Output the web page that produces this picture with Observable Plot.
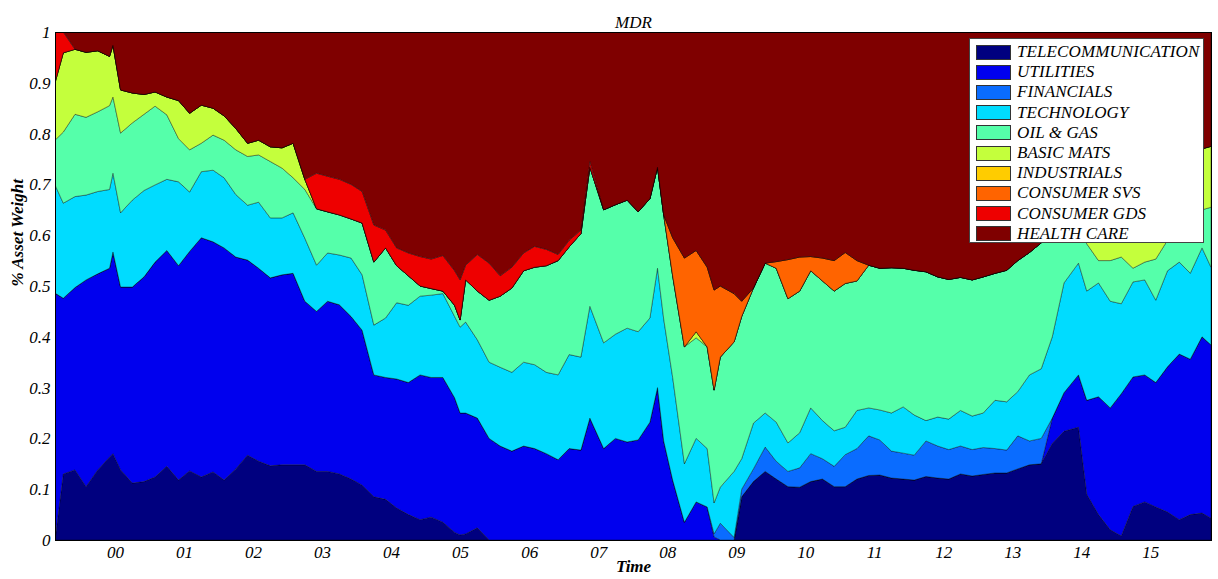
<!DOCTYPE html>
<html>
<head>
<meta charset="utf-8">
<script src="https://cdn.jsdelivr.net/npm/d3@7"></script>
<script src="https://cdn.jsdelivr.net/npm/@observablehq/plot@0.6"></script>
<style>
  html, body { margin: 0; padding: 0; background: #fff; }
  #wrap { position: relative; width: 1218px; height: 579px; }
  #legend { position: absolute; left: 969px; top: 38px; width: 235px; height: 205px; box-sizing: border-box;
    background: #fff; border: 1px solid #444; padding-top: 3px; font-family: "Liberation Serif", serif; }
  .row { display: flex; align-items: center; height: 20.2px; }
  .sw { width: 35px; height: 15px; margin-left: 6px; box-sizing: border-box; border: 1px solid #333; }
  .lab { margin-left: 6px; font-size: 17px; font-style: italic; color: #000; white-space: nowrap; letter-spacing: 0.1px; }
</style>
</head>
<body>
<div id="wrap"><div id="chart"></div><div id="legend"></div></div>
<script>
const sectors = ["TELECOMMUNICATION","UTILITIES","FINANCIALS","TECHNOLOGY","OIL & GAS","BASIC MATS","INDUSTRIALS","CONSUMER SVS","CONSUMER GDS","HEALTH CARE"];
const colors = ["#00007f","#0000ee","#0a6cff","#00dcff","#55ffaa","#c4ff3c","#ffcc00","#ff6400","#ee0000","#7f0000"];

const dates = [1999.13,1999.25,1999.42,1999.58,1999.75,1999.92,1999.97,2000.08,2000.25,2000.42,2000.58,2000.75,2000.92,2001.08,2001.25,2001.42,2001.58,2001.75,2001.92,2002.08,2002.25,2002.42,2002.58,2002.75,2002.92,2003.08,2003.25,2003.42,2003.58,2003.75,2003.92,2004.08,2004.25,2004.42,2004.58,2004.75,2004.92,2005.0,2005.08,2005.25,2005.42,2005.58,2005.75,2005.92,2006.08,2006.25,2006.42,2006.58,2006.75,2006.88,2007.08,2007.25,2007.42,2007.58,2007.75,2007.86,2007.95,2008.08,2008.25,2008.42,2008.58,2008.68,2008.77,2008.97,2009.08,2009.25,2009.42,2009.58,2009.75,2009.92,2010.08,2010.25,2010.42,2010.58,2010.75,2010.92,2011.08,2011.25,2011.42,2011.58,2011.75,2011.92,2012.08,2012.25,2012.42,2012.58,2012.75,2012.92,2013.08,2013.25,2013.42,2013.58,2013.75,2013.96,2014.08,2014.25,2014.42,2014.58,2014.75,2014.92,2015.08,2015.25,2015.42,2015.58,2015.75,2015.88];

const telecom = [0,0.13,0.138,0.105,0.138,0.163,0.17,0.138,0.112,0.115,0.124,0.145,0.118,0.136,0.124,0.134,0.118,0.14,0.167,0.155,0.146,0.148,0.148,0.148,0.135,0.135,0.13,0.12,0.108,0.085,0.08,0.063,0.05,0.04,0.045,0.035,0.015,0.01,0.012,0.024,
0,0,0,0,0,0,0,0,0,0,0,0,0,0,0,0,0,0,0,0,0,0,0,0,
0.085,0.115,0.135,0.12,0.105,0.104,0.115,0.12,0.105,0.105,0.12,0.127,0.128,0.122,0.12,0.118,0.125,0.122,0.12,0.13,0.126,0.129,0.132,0.132,0.14,0.148,0.15,0.19,0.214,0.222,0.09,0.05,0.02,0.008,0.066,0.075,0.065,0.055,0.04,0.05,0.053,0.043];

const utilities = [0.486,0.346,0.359,0.407,0.386,0.372,0.397,0.36,0.386,0.403,0.423,0.425,0.422,0.432,0.471,0.453,0.457,0.417,0.384,0.38,0.37,0.374,0.377,0.322,0.315,0.335,0.333,0.32,0.305,0.24,0.24,0.254,0.26,0.285,0.275,0.285,0.265,0.24,0.238,0.216,0.2,0.185,0.175,0.185,0.18,0.17,0.158,0.18,0.177,0.24,0.18,0.2,0.193,0.197,0.232,0.30,
0.195,
0.118,0.035,0.075,0.065,0.006,0,0,
0,0,0,0,0,0,0,0,0,0,0,0,0,0,0,0,0,0,0,0,0,0,0,0,0,0,0,
0.05,0.076,0.103,0.185,0.232,0.24,0.28,0.255,0.25,0.245,0.286,0.326,0.306,0.347,0.341];

const financials = [0,0,0,0,0,0,0,0,0,0,0,0,0,0,0,0,0,0,0,0,0,0,0,0,0,0,0,0,0,0,0,0,0,0,0,0,0,0,0,0,0,0,0,0,0,0,0,0,0,0,0,0,0,0,0,0,0,0,0,0,0,
0.006,0.033,0.005,0.015,0.025,0.048,0.035,0.03,0.038,0.055,0.04,0.04,0.063,0.06,0.078,0.069,0.053,0.051,0.049,0.07,0.063,0.058,0.055,0.052,0.053,0.048,0.045,0.065,0.047,0.05,
0,0,0,0,0,0,0,0,0,0,0,0,0,0,0];

const technology = [0.213,0.187,0.179,0.167,0.162,0.155,0.155,0.146,0.171,0.17,0.152,0.14,0.165,0.117,0.13,0.141,0.138,0.123,0.108,0.13,0.118,0.112,0.119,0.124,0.091,0.095,0.098,0.115,0.109,0.098,0.117,0.15,0.152,0.155,0.162,0.165,0.16,0.169,0.179,0.154,0.15,0.155,0.155,0.165,0.165,0.16,0.167,0.185,0.183,0.22,0.208,0.205,0.224,0.213,0.205,0.235,
0.24,
0.202,0.115,0.125,0.115,0.061,0.071,0.13,
0.06,0.09,0.067,0.077,0.056,0.069,0.09,0.075,0.07,0.054,0.075,0.055,0.059,0.075,0.091,0.079,0.04,0.057,0.06,0.07,0.066,0.068,0.095,0.095,0.087,0.13,0.137,0.16,0.216,0.22,
0.215,0.224,0.21,0.177,0.187,0.187,0.162,0.189,0.181,0.169,0.175,0.153];

const oilGas = [0.088,0.14,0.162,0.153,0.157,0.165,0.15,0.157,0.152,0.15,0.155,0.127,0.085,0.083,0.056,0.069,0.074,0.088,0.096,0.093,0.111,0.098,0.069,0.096,0.111,0.081,0.079,0.077,0.102,0.124,0.138,0.073,0.058,0.02,0.013,0.005,0.022,0.014,0.083,0.096,0.122,0.14,0.166,0.18,0.192,0.21,0.225,0.212,0.243,0.274,0.262,0.255,0.252,0.236,0.235,0.199,
0.205,
0.2,0.23,0.198,0.2,0.222,0.256,0.255,
0.28,0.266,0.295,0.303,0.284,0.279,0.27,0.275,0.275,0.283,0.255,0.281,0.279,0.286,0.273,0.285,0.293,0.276,0.275,0.262,0.268,0.268,0.25,0.259,0.258,0.241,0.248,0.20,0.114,0.07,
0.093,0.044,0.08,0.092,0.027,0.035,0.081,0.06,0.073,0.115,0.075,0.118];

const basicMats = [0.113,0.156,0.128,0.128,0.12,0.097,0.102,0.085,0.059,0.039,0.028,0.035,0.075,0.072,0.075,0.053,0.048,0.042,0.026,0.029,0.029,0.04,0.068,0.02,
0,0,0,0,0,0,0,0,0,0,0,0,0,0,0,0,0,0,0,0,0,0,0,0,0,0,0,0,0,0,0,0,0,0,0,
0.012,
0,0,0,0,0,0,0,0,0,0,0,0,0,0,0,0,0,0,0,0,0,0,0,0,0,0,0,0,0,0,0,0,0,0,
0.017,0.09,0.13,0.143,0.185,0.183,0.187,0.16,0.14,0.125,0.12,0.12];

const industrials = [0,0,0,0,0,0,0,0,0,0,0,0,0,0,0,0,0,0,0,0,0,0,0,0,0,0,0,0,0,0,0,0,0,0,0,0,0,0,0,0,0,0,0,0,0,0,0,0,0,0,0,0,0,0,0,0,0,0,0,0,0,0,0,0,0,0,0,0,0,0,0,0,0,0,0,0,0,0,0,0,0,0,0,0,0,0,0,0,0,0,0,0,0,0,0,0,0,0,0,0,0,0,0,0,0,0];

const consumerSvs = [0,0,0,0,0,0,0,0,0,0,0,0,0,0,0,0,0,0,0,0,0,0,0,0,0,0,0,0,0,0,0,0,0,0,0,0,0,0,0,0,0,0,0,0,0,0,0,0,0,0,0,0,0,0,0,0,0,
0.075,0.175,0.16,0.157,0.197,0.14,0.095,0.03,
0,0,
0.013,0.077,0.067,0.028,0.045,0.06,0.061,0.04,
0,0,0,0,0,0,0,0,0,0,0,0,0,0,0,0,0,0,0,0,0,0,0,0,0,0,0,0,0,0,0];

const consumerGds = [0.10,0.041,
0,0,0,0,0,0,0,0,0,0,0,0,0,0,0,0,0,0,0,0,0,0,
0.07,0.07,0.07,0.068,0.062,0.073,0.035,0.035,0.045,0.058,0.058,0.07,0.068,0.079,0.029,0.072,0.073,0.04,0.041,0.035,0.041,0.032,0.012,0.013,0.007,0.011,
0,0,0,0,0,0,0,0,0,0,0,0,0,0,0,0,0,0,0,0,0,0,0,0,0,0,0,0,0,0,0,0,0,0,0,0,0,0,0,0,0,0,0,0,0,0,0,0,0,0,0,0,0,0,0,0];

const healthCare = [0,0,0.034,0.04,0.037,0.048,0.026,0.114,0.12,0.123,0.118,0.128,0.135,0.16,0.144,0.15,0.165,0.19,0.219,0.213,0.226,0.228,0.219,0.29,0.278,0.284,0.29,0.30,0.314,0.38,0.39,0.425,0.435,0.442,0.447,0.44,0.47,0.488,0.459,0.438,0.455,0.48,0.463,0.435,0.422,0.428,0.438,0.41,0.39,0.255,0.35,0.34,0.331,0.354,0.328,0.266,
0.36,
0.405,0.445,0.43,0.463,0.508,0.50,0.515,
0.53,0.504,0.455,0.452,0.448,0.443,0.442,0.445,0.45,0.434,0.45,0.459,0.465,0.464,0.465,0.469,0.472,0.482,0.487,0.483,0.488,0.482,0.475,0.469,0.45,0.434,0.415,0.40,0.38,0.385,
0.40,0.36,0.32,0.30,0.28,0.27,0.26,0.25,0.24,0.235,0.23,0.225];

const yTicks = [0,0.1,0.2,0.3,0.4,0.5,0.6,0.7,0.8,0.9,1];
const yTickLabels = ["0","0.1","0.2","0.3","0.4","0.5","0.6","0.7","0.8","0.9","1"];
const xTicks = [2000,2001,2002,2003,2004,2005,2006,2007,2008,2009,2010,2011,2012,2013,2014,2015];
const xTickLabels = ["00","01","02","03","04","05","06","07","08","09","10","11","12","13","14","15"];

const series = [telecom, utilities, financials, technology, oilGas, basicMats, industrials, consumerSvs, consumerGds, healthCare];
const rows = [];
sectors.forEach((s, i) => dates.forEach((d, j) => rows.push({date: d, sector: s, weight: series[i][j]})));

const serif = "'Liberation Serif', 'Times New Roman', serif";
const chart = Plot.plot({
  width: 1218, height: 579,
  marginLeft: 55, marginRight: 7, marginTop: 32, marginBottom: 39,
  x: {domain: [dates[0], dates[dates.length - 1]]},
  y: {domain: [0, 1]},
  color: {domain: sectors, range: colors},
  style: {fontFamily: serif, background: "#fff", color: "#000"},
  marks: [
    Plot.areaY(rows, {x: "date", y: "weight", z: "sector", fill: "sector", order: sectors,
      stroke: "#000", strokeWidth: 0.5, strokeOpacity: 0.75, clip: true}),
    Plot.frame({stroke: "#000", strokeWidth: 1}),
    Plot.axisY({ticks: yTicks, tickSize: 0, tickPadding: 5, label: null,
      tickFormat: d => yTickLabels[yTicks.indexOf(d)], fontSize: 17, fontStyle: "italic"}),
    Plot.axisX({ticks: xTicks, tickSize: 0, tickPadding: 5, label: null,
      tickFormat: d => xTickLabels[xTicks.indexOf(d)], fontSize: 17, fontStyle: "italic"}),
    Plot.text(["MDR"], {text: d => d, frameAnchor: "top", dy: -17, fontSize: 17, fontStyle: "italic"}),
    Plot.text(["Time"], {text: d => d, frameAnchor: "bottom", dy: 31, fontSize: 17, fontStyle: "italic", fontWeight: "bold"}),
    Plot.text(["% Asset Weight"], {text: d => d, frameAnchor: "left", rotate: -90, dx: -38, fontSize: 17, fontStyle: "italic", fontWeight: "bold"})
  ]
});
document.getElementById("chart").appendChild(chart);

const legend = document.getElementById("legend");
sectors.forEach((s, i) => {
  const row = document.createElement("div");
  row.className = "row";
  const sw = document.createElement("div");
  sw.className = "sw";
  sw.style.background = colors[i];
  const lab = document.createElement("span");
  lab.className = "lab";
  lab.textContent = s;
  row.appendChild(sw); row.appendChild(lab);
  legend.appendChild(row);
});
</script>
</body>
</html>
